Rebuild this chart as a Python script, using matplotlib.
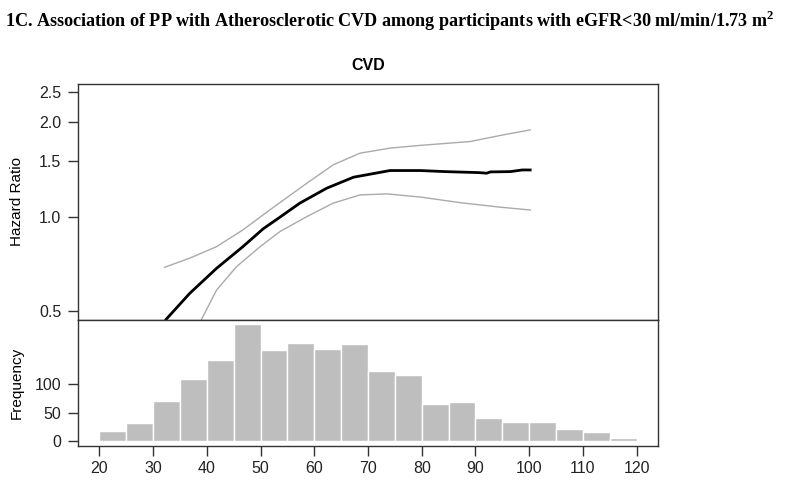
import numpy as np
import matplotlib
matplotlib.use('Agg')
import matplotlib.pyplot as plt

plt.rcParams['font.family'] = ['Liberation Sans', 'DejaVu Sans']
plt.rcParams['mathtext.fontset'] = 'custom'
plt.rcParams['mathtext.rm'] = 'Liberation Serif:bold'
plt.rcParams['mathtext.bf'] = 'Liberation Serif:bold'

# hazard ratio curve (pulse pressure vs HR)
hr_x = [32.4, 36.8, 41.8, 46.7, 50.5, 53.6, 57.3, 62.3, 67.3, 74.1,
        79.7, 84.4, 90.6, 92.1, 92.8, 96.5, 98.7, 100.2]
hr_y = [0.470, 0.569, 0.684, 0.802, 0.915, 0.996, 1.104, 1.232, 1.336, 1.403,
        1.403, 1.392, 1.382, 1.376, 1.389, 1.392, 1.409, 1.409]

up_x = [32.1, 36.8, 41.8, 46.7, 51.7, 58.6, 63.5, 68.5, 74.1,
        79.7, 89.0, 95.2, 100.2]
up_y = [0.689, 0.737, 0.802, 0.907, 1.050, 1.278, 1.462, 1.594, 1.654,
        1.688, 1.736, 1.824, 1.891]

lo_x = [39.0, 41.8, 45.5, 49.9, 53.6, 58.6, 63.5, 68.5, 73.5,
        79.7, 87.2, 94.6, 100.2]
lo_y = [0.470, 0.583, 0.692, 0.802, 0.896, 1.000, 1.104, 1.173, 1.182,
        1.155, 1.108, 1.072, 1.050]

# histogram of pulse pressure
bin_left = list(range(20, 120, 5))
counts = [18, 32, 70, 108, 141, 203, 158, 170, 160, 169,
          122, 115, 65, 68, 41, 34, 34, 22, 16, 6]

hr_ticks = [0.5, 1.0, 1.5, 2.0, 2.5]
freq_ticks = [0, 50, 100]
x_ticks = list(range(20, 121, 10))

fig = plt.figure(figsize=(8, 4.88), dpi=100)
edge = '#333333'

ax1 = fig.add_axes([0.0975, 0.3449, 0.725, 0.4830])
ax2 = fig.add_axes([0.0975, 0.0861, 0.725, 0.2588])

ax1.plot(up_x, up_y, color='#aaaaaa', lw=1.0)
ax1.plot(lo_x, lo_y, color='#aaaaaa', lw=1.0)
ax1.plot(hr_x, hr_y, color='black', lw=2.0)
ax1.set_yscale('log')
ax1.set_ylim(0.469, 2.65)
ax1.set_xlim(16, 124)
ax1.set_yticks(hr_ticks)
ax1.set_yticklabels(['%.1f' % t for t in hr_ticks])
ax1.minorticks_off()
ax1.set_xticks([])
ax1.set_ylabel('Hazard Ratio', fontsize=11)
ax1.set_title('CVD', fontsize=11.5, fontweight='bold', pad=10)

ax2.bar(bin_left, counts, width=5, align='edge', color='#bebebe',
        edgecolor='white', linewidth=1.0)
ax2.set_xlim(16, 124)
ax2.set_ylim(-8.1, 211.1)
ax2.set_yticks(freq_ticks)
ax2.set_xticks(x_ticks)
ax2.set_ylabel('Frequency', fontsize=11)
ax1.yaxis.set_label_coords(-0.093, 0.5)
ax2.yaxis.set_label_coords(-0.093, 0.5)

for ax in (ax1, ax2):
    for s in ax.spines.values():
        s.set_color(edge)
        s.set_linewidth(1.0)
    ax.tick_params(direction='out', length=7, width=1, color=edge,
                   labelsize=11.5, labelcolor='#222222', pad=5)
ax2.tick_params(axis='x', pad=4)

fig.text(0.006, 0.958,
         r'1C. Association of PP with Atherosclerotic CVD among participants with eGFR<30 ml/min/1.73 m$^{\mathbf{2}}$',
         fontsize=13.1, fontweight='bold', family='Liberation Serif', va='center')

fig.savefig('out.png', dpi=100)
